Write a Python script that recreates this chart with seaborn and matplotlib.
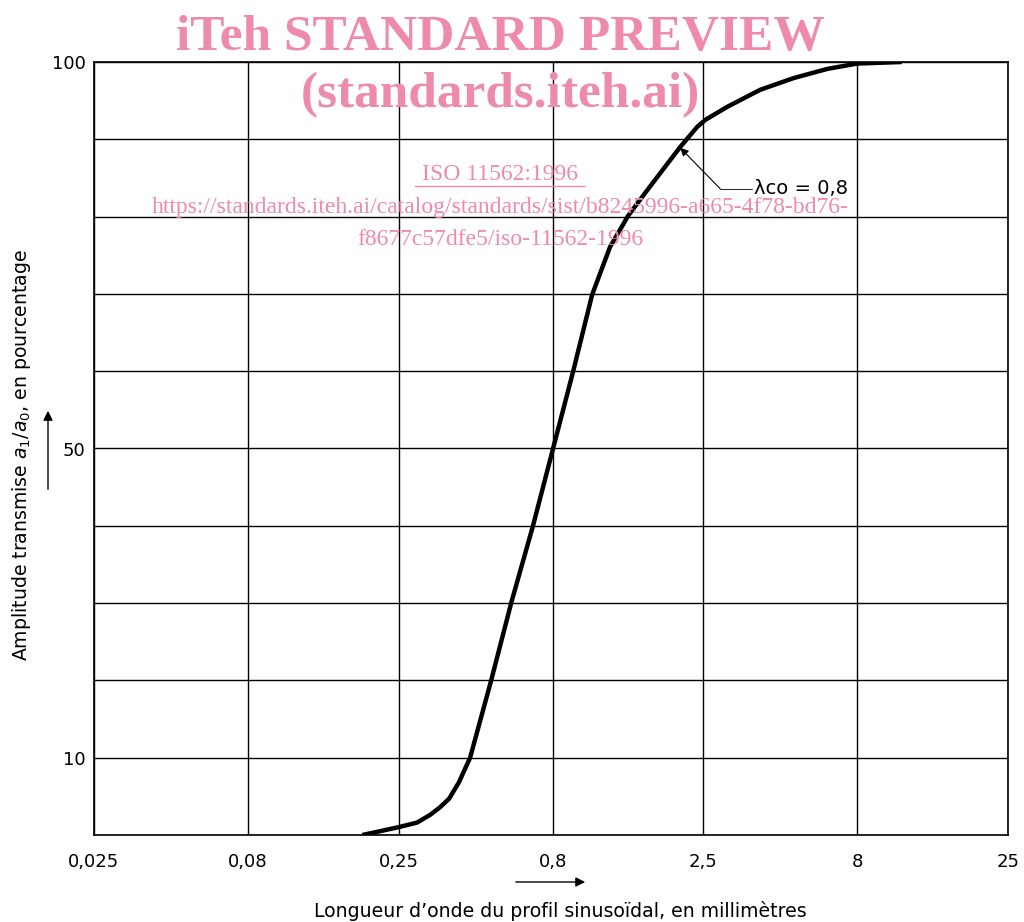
import numpy as np
import pandas as pd
import matplotlib
matplotlib.use("Agg")
import matplotlib.pyplot as plt
import seaborn as sns

# Courbe de transmission
longueur_onde = [0.190, 0.249, 0.287, 0.317, 0.342, 0.366, 0.394, 0.429, 0.503,
                 0.585, 0.690, 0.803, 0.935, 1.008, 1.079, 1.236, 1.416, 1.635,
                 1.803, 2.099, 2.386, 2.535, 2.995, 3.84, 4.93, 6.37, 8.0, 11.2]
amplitude = [0.0, 1.0, 1.6, 2.6, 3.6, 4.7, 6.8, 10.0, 20.0,
             30.0, 40.0, 50.0, 60.0, 65.2, 69.9, 76.1, 80.1, 83.4,
             85.6, 89.0, 91.6, 92.5, 94.2, 96.4, 97.9, 99.1, 99.8, 100.0]

x_ticks = [0.025, 0.08, 0.25, 0.8, 2.5, 8, 25]
x_labels = ["0,025", "0,08", "0,25", "0,8", "2,5", "8", "25"]
y_grid = list(range(0, 101, 10))
y_ticks = [10, 50, 100]
y_labels = ["10", "50", "100"]

df = pd.DataFrame({"lambda": longueur_onde, "amp": amplitude})

sns.set_theme(style="white")
plt.rcParams['font.family'] = ['DejaVu Sans']
plt.rcParams['text.color'] = 'black'
plt.rcParams['xtick.color'] = 'black'
plt.rcParams['ytick.color'] = 'black'

fig = plt.figure(figsize=(10.24, 9.22), dpi=100)
ax = fig.add_axes([94 / 1024, 1 - 835 / 922, (1008 - 94) / 1024, (835 - 62) / 922])

# Grille
for xv in x_ticks:
    ax.axvline(xv, color='black', lw=1.0, zorder=1)
for yv in y_grid:
    ax.axhline(yv, color='black', lw=1.0, zorder=1)

sns.lineplot(data=df, x="lambda", y="amp", color='black', lw=3.2, ax=ax,
             zorder=3, solid_capstyle='butt', solid_joinstyle='round')

ax.set_xscale('log')
ax.set_xlim(0.025, 25)
ax.set_ylim(0, 100)
ax.set_xticks(x_ticks)
ax.set_xticklabels(x_labels, fontsize=13)
ax.set_yticks(y_ticks)
ax.set_yticklabels(y_labels, fontsize=13)
ax.xaxis.set_minor_locator(matplotlib.ticker.NullLocator())
ax.tick_params(axis='x', length=0, pad=13)
ax.tick_params(axis='y', length=0, pad=6)
for s in ax.spines.values():
    s.set_color('black')
    s.set_linewidth(1.2)
ax.set_xlabel("")
ax.set_ylabel("")

# Annotation lambda co
ax.annotate("", xy=(2.10, 88.9), xytext=(2.84, 83.6),
            arrowprops=dict(arrowstyle='-|>', color='black', lw=0.8,
                            mutation_scale=12, shrinkA=0, shrinkB=0), zorder=4)
ax.plot([2.84, 3.6], [83.6, 83.6], color='black', lw=0.6, zorder=4)
ax.text(3.66, 83.6, "λco = 0,8", fontsize=14, ha='left', va='center', zorder=4)

# Titres des axes avec flèches
fig.text(22 / 1024, 1 - 455 / 922, r"Amplitude transmise $a_1/a_0$, en pourcentage",
         rotation=90, ha='center', va='center', fontsize=13.6)
fig.text(560 / 1024, 1 - 911 / 922, "Longueur d\u2019onde du profil sinusoïdal, en millimètres",
         ha='center', va='center', fontsize=13.6)
fig.add_artist(matplotlib.patches.FancyArrowPatch(
    (48 / 1024, 1 - 492 / 922), (48 / 1024, 1 - 408 / 922), transform=fig.transFigure,
    arrowstyle='-|>', mutation_scale=14, color='black', lw=1.0))
fig.add_artist(matplotlib.patches.FancyArrowPatch(
    (513 / 1024, 1 - 882 / 922), (588 / 1024, 1 - 882 / 922), transform=fig.transFigure,
    arrowstyle='-|>', mutation_scale=14, color='black', lw=1.0))

# Filigrane
rose = '#ee8aab'
serif = ['Liberation Serif', 'DejaVu Serif']
fig.text(500 / 1024, 1 - 38 / 922, "iTeh STANDARD PREVIEW", color=rose, family=serif,
         fontweight='bold', fontsize=37, ha='center', va='center', zorder=10)
fig.text(500 / 1024, 1 - 95 / 922, "(standards.iteh.ai)", color=rose, family=serif,
         fontweight='bold', fontsize=37, ha='center', va='center', zorder=10)
fig.text(500 / 1024, 1 - 175 / 922, "ISO 11562:1996", color=rose, family=serif,
         fontsize=17, ha='center', va='center', zorder=10)
fig.add_artist(matplotlib.lines.Line2D([415 / 1024, 585 / 1024], [1 - 186 / 922, 1 - 186 / 922],
                                       color=rose, lw=1.0))
fig.text(500 / 1024, 1 - 207 / 922,
         "https://standards.iteh.ai/catalog/standards/sist/b8245996-a665-4f78-bd76-",
         color=rose, family=serif, fontsize=17, ha='center', va='center', zorder=10)
fig.text(500 / 1024, 1 - 239 / 922, "f8677c57dfe5/iso-11562-1996", color=rose, family=serif,
         fontsize=17, ha='center', va='center', zorder=10)

fig.savefig("out.png", dpi=100, facecolor='white')
